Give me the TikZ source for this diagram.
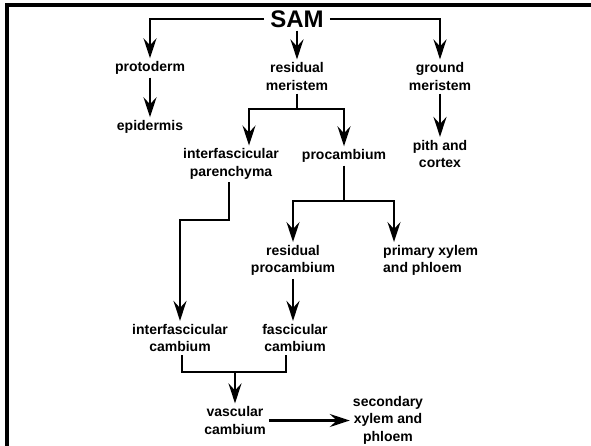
\documentclass[tikz,border=0pt]{standalone}
\usepackage{fontspec}
\setmainfont{Liberation Sans}
\usetikzlibrary{arrows.meta,calc}
\begin{document}
\begin{tikzpicture}[x=1pt,y=-1pt,
  lbl/.style={font=\fontsize{14}{17.5}\selectfont\bfseries, align=center, inner sep=3pt},
  conn/.style={line width=2.3pt, line join=miter},
  arr/.style={conn, -{Stealth[length=20pt,width=13pt,inset=7pt]}}]
\useasboundingbox (0,0) rectangle (591,445);
\draw[line width=3.5pt] (7,450) -- (7,5) -- (596,5);
% nodes
\node[font=\fontsize{24}{26}\selectfont\bfseries, inner xsep=6pt, inner ysep=3pt] (SAM) at (297,19) {SAM};
\node[lbl] (proto) at (150,68) {protoderm};
\node[lbl] (epi) at (150,127) {epidermis};
\node[lbl] (resmer) at (297,76.5) {residual\\meristem};
\node[lbl] (ground) at (440,76.5) {ground\\meristem};
\node[lbl] (pith) at (440,154) {pith and\\cortex};
\node[lbl] (ifp) at (231,164) {interfascicular\\parenchyma};
\node[lbl] (procamb) at (344,156) {procambium};
\node[lbl] (rproc) at (293,260.5) {residual\\procambium};
\node[lbl, align=left, anchor=west] (pxp) at (380,260.5) {primary xylem\\and phloem};
\node[lbl] (ifc) at (180,338) {interfascicular\\cambium};
\node[lbl] (fc) at (295,338) {fascicular\\cambium};
\node[lbl] (vc) at (235,420.5) {vascular\\cambium};
\node[lbl] (sxp) at (388,420) {secondary\\xylem and\\phloem};
% helper coordinates
\coordinate (j1) at (297,109);
\coordinate (j2) at (344,201);
\coordinate (a394) at (394,0);
\coordinate (k1) at (229,220);
\coordinate (k2) at (180,220);
\coordinate (j3) at (235,372);
\coordinate (l1) at (182,0);
\coordinate (l2) at (286,0);
% connectors
\draw[arr] (SAM.west) -| (proto.north);
\draw[arr] (SAM.east) -| (ground.north);
\draw[arr] (SAM.south) -- (resmer.north);
\draw[arr] (proto.south) -- (epi.north);
\draw[arr] (ground.south) -- (pith.north);
\draw[conn] (resmer.south) -- (j1);
\draw[arr] (j1) -| ([xshift=18pt]ifp.north);
\draw[arr] (j1) -| (procamb.north);
\draw[conn] (procamb.south) -- (j2);
\draw[arr] (j2) -| (rproc.north);
\draw[arr] (j2) -| (pxp.north -| a394);
\draw[arr] (ifp.south -| k1) -- (k1) -- (k2) -- (ifc.north);
\draw[arr] (rproc.south) -- (rproc.south |- fc.north);
\draw[conn] (ifc.south -| l1) |- (j3);
\draw[conn] (fc.south -| l2) |- (j3);
\draw[arr] (j3) -- (vc.north);
\draw[arr] (vc.east) -- (sxp.west |- vc.east);
\end{tikzpicture}
\end{document}
